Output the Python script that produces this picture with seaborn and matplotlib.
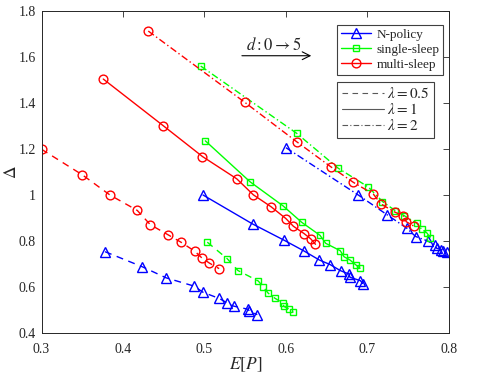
import numpy as np
import pandas as pd
import seaborn as sns
import matplotlib
matplotlib.use("Agg")
import matplotlib.pyplot as plt
from matplotlib.lines import Line2D

# values (E[P], Delta-bar), d: 0 -> 5
# N-policy
np_x_05 = [0.378, 0.4237, 0.4528, 0.4871, 0.4982, 0.5182, 0.5282, 0.5356, 0.5537, 0.5552, 0.5648]
np_y_05 = [0.7535, 0.688, 0.640, 0.604, 0.577, 0.550, 0.530, 0.517, 0.503, 0.494, 0.480]
np_x_1 = [0.4982, 0.5591, 0.5979, 0.6215, 0.6409, 0.654, 0.6669, 0.6773, 0.6785, 0.6914, 0.6939]
np_y_1 = [1.0, 0.8739, 0.803, 0.7578, 0.7174, 0.6978, 0.6709, 0.6565, 0.6422, 0.6274, 0.6152]
np_x_2 = [0.600, 0.6887, 0.7245, 0.7479, 0.7591, 0.7739, 0.7828, 0.7849, 0.7902, 0.793, 0.7972]
np_y_2 = [1.2057, 1.0, 0.913, 0.8565, 0.8196, 0.800, 0.7826, 0.7683, 0.763, 0.7565, 0.7509]

# single-sleep
ss_x_05 = [0.5034, 0.528, 0.541, 0.566, 0.5722, 0.5783, 0.5865, 0.5963, 0.5973, 0.604, 0.6092]
ss_y_05 = [0.795, 0.7226, 0.6717, 0.626, 0.600, 0.5726, 0.551, 0.530, 0.516, 0.504, 0.490]
ss_x_1 = [0.501, 0.5558, 0.5963, 0.6193, 0.6417, 0.6487, 0.6666, 0.6712, 0.6785, 0.6859, 0.6908]
ss_y_1 = [1.2357, 1.0578, 0.953, 0.8813, 0.8248, 0.790, 0.7578, 0.7317, 0.7174, 0.6957, 0.6813]
ss_x_2 = [0.4953, 0.6131, 0.6642, 0.701, 0.7184, 0.7337, 0.7448, 0.7604, 0.7665, 0.7726, 0.7773]
ss_y_2 = [1.5609, 1.2683, 1.1161, 1.0348, 0.9717, 0.9326, 0.9109, 0.877, 0.8509, 0.8361, 0.8143]

# multi-sleep
ms_x_05 = [0.300, 0.350, 0.384, 0.4175, 0.4335, 0.4558, 0.4715, 0.4883, 0.4966, 0.506, 0.518]
ms_y_05 = [1.199, 1.088, 1.000, 0.933, 0.871, 0.826, 0.794, 0.755, 0.727, 0.704, 0.680]
ms_x_1 = [0.3758, 0.4494, 0.4975, 0.5396, 0.5599, 0.5818, 0.5998, 0.609, 0.6221, 0.6303, 0.6362]
ms_y_1 = [1.5043, 1.3013, 1.1674, 1.0704, 1.0009, 0.9487, 0.8978, 0.8643, 0.8326, 0.8096, 0.7857]
ms_x_2 = [0.431, 0.5493, 0.6131, 0.6549, 0.6826, 0.7071, 0.7166, 0.7334, 0.7439, 0.7476, 0.7573]
ms_y_2 = [1.713, 1.4035, 1.2317, 1.123, 1.0552, 1.0043, 0.9609, 0.9261, 0.9087, 0.8839, 0.8639]

policies = ["N-policy", "single-sleep", "multi-sleep"]
lambdas = ["0.5", "1", "2"]
series = {
    ("N-policy", "0.5"): (np_x_05, np_y_05),
    ("N-policy", "1"): (np_x_1, np_y_1),
    ("N-policy", "2"): (np_x_2, np_y_2),
    ("single-sleep", "0.5"): (ss_x_05, ss_y_05),
    ("single-sleep", "1"): (ss_x_1, ss_y_1),
    ("single-sleep", "2"): (ss_x_2, ss_y_2),
    ("multi-sleep", "0.5"): (ms_x_05, ms_y_05),
    ("multi-sleep", "1"): (ms_x_1, ms_y_1),
    ("multi-sleep", "2"): (ms_x_2, ms_y_2),
}

colors = {"N-policy": "#0000ff", "single-sleep": "#00ff00", "multi-sleep": "#ff0000"}
markers = {"N-policy": "^", "single-sleep": "s", "multi-sleep": "o"}
msizes = {"N-policy": 6.5, "single-sleep": 5, "multi-sleep": 6.3}
styles = {"0.5": (0, (5, 4)), "1": "-", "2": (0, (5, 2, 1, 2))}

sns.set_style("white")
plt.rcParams["font.family"] = "serif"
plt.rcParams["font.serif"] = ["Liberation Serif", "DejaVu Serif"]
plt.rcParams["mathtext.fontset"] = "stix"

fig = plt.figure(figsize=(4.9, 3.81), dpi=100)
ax = fig.add_axes([0.0847, 0.126, 0.8316, 0.845])

for (pol, lam), (xs, ys) in series.items():
    df = pd.DataFrame({"EP": xs, "D": ys})
    sns.lineplot(data=df, x="EP", y="D", ax=ax, estimator=None, sort=False,
                 color=colors[pol], linestyle=styles[lam], linewidth=1.0,
                 marker=markers[pol], markersize=msizes[pol],
                 markerfacecolor="none", markeredgecolor=colors[pol],
                 markeredgewidth=1.0, legend=False)

ax.set_xlim(0.3, 0.8)
ax.set_ylim(0.4, 1.8)
ax.set_xticks([0.3, 0.4, 0.5, 0.6, 0.7, 0.8])
ax.set_xticklabels(["0.3", "0.4", "0.5", "0.6", "0.7", "0.8"])
ax.set_yticks([0.4, 0.6, 0.8, 1.0, 1.2, 1.4, 1.6, 1.8])
ax.set_yticklabels(["0.4", "0.6", "0.8", "1", "1.2", "1.4", "1.6", "1.8"])
ax.tick_params(direction="in", length=4, width=0.6, top=True, right=True,
               labelsize=10, colors="0.15")
ax.tick_params(axis="x", pad=7)
ax.tick_params(axis="y", pad=4)
for sp in ax.spines.values():
    sp.set_color("0.15")
    sp.set_linewidth(0.7)

ax.set_xlabel(r"$E\left[P\right]$", fontsize=12.5, labelpad=0)
ax.set_ylabel(r"$\bar{\Delta}$", fontsize=12.5)
ax.yaxis.set_label_coords(-0.05, 0.5)

# d: 0 -> 5 arrow
ax.annotate("", xy=(0.6344, 1.6057), xytext=(0.5425, 1.6057),
            arrowprops=dict(arrowstyle="->", color="k", lw=0.8,
                            mutation_scale=14))
ax.text(0.5853, 1.649, r"$d:0\rightarrow 5$", ha="center", va="center",
        fontsize=12)

# legend 1: policies
h1 = [Line2D([0], [0], color=colors[p], lw=1.0, marker=markers[p],
             markersize=msizes[p], markerfacecolor="none",
             markeredgewidth=1.0) for p in policies]
leg1 = ax.legend(h1, policies, loc="upper left", bbox_to_anchor=(0.725, 0.957),
                 borderaxespad=0, fancybox=False, framealpha=1,
                 edgecolor="0.25", fontsize=9.5, handlelength=2.3,
                 handletextpad=0.4, labelspacing=0.2, borderpad=0.3)
leg1.get_frame().set_linewidth(0.8)
ax.add_artist(leg1)

# legend 2: lambda
h2 = [Line2D([0], [0], color="0.35", lw=0.8, linestyle=styles[l]) for l in lambdas]
lab2 = [r"$\lambda=%s$" % l for l in lambdas]
leg2 = ax.legend(h2, lab2, loc="upper left", bbox_to_anchor=(0.725, 0.78),
                 borderaxespad=0, fancybox=False, framealpha=1,
                 edgecolor="0.25", fontsize=11, handlelength=2.8,
                 handletextpad=0.2, labelspacing=0.05, borderpad=0.3)
leg2.get_frame().set_linewidth(0.8)

plt.savefig("out.png", dpi=100)
